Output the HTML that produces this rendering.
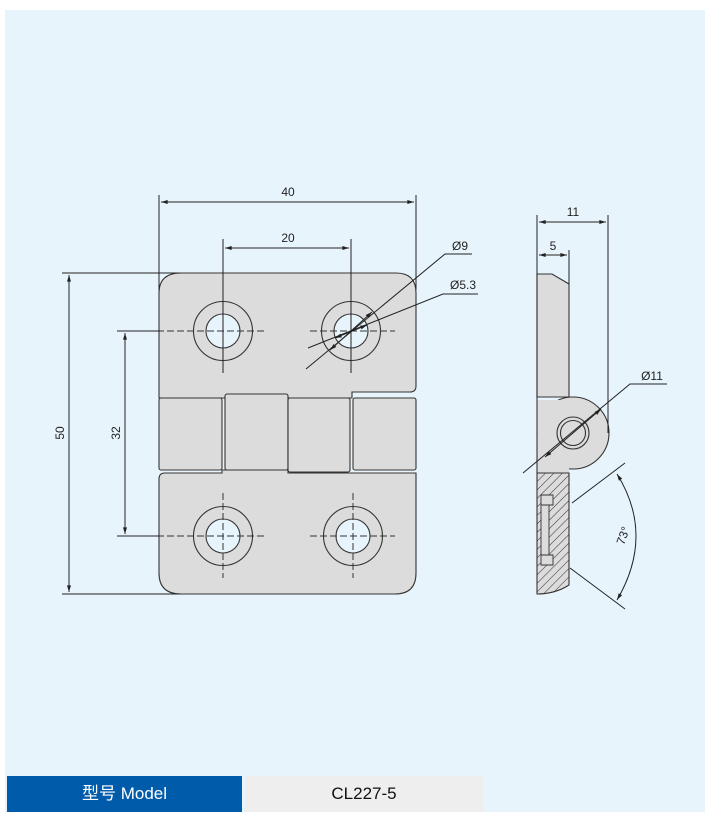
<!DOCTYPE html>
<html><head><meta charset="utf-8"><style>
html,body{margin:0;padding:0;background:#fff;}
body{width:710px;height:819px;position:relative;overflow:hidden;}
#panel{position:absolute;left:5px;top:10px;width:700px;height:802px;background:#e8f4fc;}
.bar{position:absolute;top:776px;height:36px;line-height:36px;text-align:center;font-family:"Liberation Sans","Noto Sans CJK SC",sans-serif;font-size:17px;}
</style></head><body>
<div id="panel"></div>
<svg width="710" height="819" style="position:absolute;left:0;top:0" font-family="Liberation Sans, sans-serif" font-size="12">
<defs>
<marker id="a" viewBox="0 0 10 6" refX="10" refY="3" markerWidth="7" markerHeight="4" orient="auto-start-reverse"><path d="M0,0L10,3L0,6z" fill="#222"/></marker>
<pattern id="h" width="6" height="6" patternUnits="userSpaceOnUse" patternTransform="rotate(45)"><rect width="6" height="6" fill="#dcdcdc"/><line x1="0" y1="0" x2="0" y2="6" stroke="#333" stroke-width="1"/></pattern>
</defs>
<g stroke="#333" stroke-width="1.1" fill="#dcdcdc">
<path d="M181,273 H396 Q416,273 416,293 V386 Q416,392 410,392 H352 V398 H159 V293 Q159,273 181,273 Z"/>
<rect x="159" y="398" width="63" height="72" rx="2"/>
<rect x="225" y="394" width="63" height="76" rx="2"/>
<rect x="288" y="398" width="62" height="74" rx="2"/>
<rect x="353" y="398" width="63" height="72" rx="2"/>
<path d="M165,473 H222 V470 H288 V473 H416 V573 Q416,594 395,594 H181 Q159,594 159,573 V479 Q159,473 165,473 Z"/>
</g>
<g stroke="#333" stroke-width="1.1" fill="#e8f4fc">
<circle cx="223" cy="331" r="29.5" fill="none"/><circle cx="223" cy="331" r="17"/>
<circle cx="351" cy="331" r="29.5" fill="none"/><circle cx="351" cy="331" r="17"/>
<circle cx="223" cy="536" r="29.5" fill="none"/><circle cx="223" cy="536" r="17"/>
<circle cx="353" cy="536" r="29.5" fill="none"/><circle cx="353" cy="536" r="17"/>
</g>
<g stroke="#333" stroke-width="1" stroke-dasharray="7,3" fill="none">
<line x1="117" y1="331" x2="265" y2="331"/><line x1="310" y1="331" x2="395" y2="331"/>
<line x1="117" y1="536" x2="265" y2="536"/><line x1="310" y1="536" x2="395" y2="536"/>
<line x1="223" y1="493" x2="223" y2="578"/><line x1="353" y1="493" x2="353" y2="578"/>
</g>
<g stroke="#222" stroke-width="1" fill="none">
<line x1="223" y1="239" x2="223" y2="373"/><line x1="351" y1="239" x2="351" y2="373"/>
<line x1="159" y1="195" x2="159" y2="290"/><line x1="416" y1="195" x2="416" y2="290"/>
<line x1="161" y1="202" x2="414" y2="202" marker-start="url(#a)" marker-end="url(#a)"/>
<line x1="225" y1="248" x2="349" y2="248" marker-start="url(#a)" marker-end="url(#a)"/>
<line x1="62" y1="273" x2="180" y2="273"/><line x1="62" y1="594" x2="180" y2="594"/>
<line x1="69" y1="275" x2="69" y2="592" marker-start="url(#a)" marker-end="url(#a)"/>
<line x1="117" y1="331" x2="160" y2="331"/><line x1="117" y1="536" x2="160" y2="536"/>
<line x1="125" y1="333" x2="125" y2="534" marker-start="url(#a)" marker-end="url(#a)"/>
<polyline points="306,369 445,254 472,254"/>
<polyline points="308,348 443,294 478,294"/>
<line x1="330" y1="350" x2="372" y2="312" marker-start="url(#a)" marker-end="url(#a)"/>
<line x1="335" y1="338" x2="367" y2="325" marker-start="url(#a)" marker-end="url(#a)"/>
</g>
<g fill="#222" text-anchor="middle">
<text x="288" y="196">40</text><text x="288" y="242">20</text>
<text x="460" y="250">Ø9</text><text x="463" y="289">Ø5.3</text>
<text transform="translate(64,433) rotate(-90)">50</text>
<text transform="translate(120,433) rotate(-90)">32</text>
</g>
<g stroke="#333" stroke-width="1.1">
<path d="M537,274 H552 L569,284 V397 H537 Z" fill="#dcdcdc"/>
<circle cx="573" cy="433" r="36" fill="#dcdcdc"/>
<rect x="537" y="400" width="32" height="73" fill="#dcdcdc" stroke="none"/>
<line x1="537" y1="274" x2="537" y2="473"/>
<path d="M537,473 H569 V585 Q555,594 537,594 Z" fill="url(#h)"/>
<path d="M541,495 H553 V505 H541 Z M541,505 H549 V555 H541 Z M541,555 H553 V565 H541 Z" fill="#dcdcdc" stroke-width="0.9"/>
<circle cx="573" cy="433" r="16" fill="none"/><circle cx="573" cy="433" r="12.5" fill="#dcdcdc"/>
</g>
<g stroke="#222" stroke-width="1" fill="none">
<line x1="537" y1="215" x2="537" y2="274"/><line x1="608" y1="215" x2="608" y2="433"/>
<line x1="569" y1="250" x2="569" y2="284"/>
<line x1="539" y1="222" x2="606" y2="222" marker-start="url(#a)" marker-end="url(#a)"/>
<line x1="539" y1="255" x2="567" y2="255" marker-start="url(#a)" marker-end="url(#a)"/>
<polyline points="523,473 630,384 667,384"/>
<line x1="545" y1="457" x2="601" y2="409" marker-start="url(#a)" marker-end="url(#a)"/>
<line x1="572" y1="503" x2="625" y2="463"/><line x1="570" y1="568" x2="625" y2="609"/>
<path d="M617,474 Q655,535 617,600" marker-start="url(#a)" marker-end="url(#a)"/>
</g>
<g fill="#222" text-anchor="middle">
<text x="573" y="216">11</text><text x="553" y="250">5</text>
<text x="652" y="380">Ø11</text>
<text transform="translate(627,537) rotate(-70)">73°</text>
</g>
</svg>
<div class="bar" style="left:7px;width:235px;background:#005bab;color:#fff;">型号 Model</div>
<div class="bar" style="left:245px;width:238px;background:#eeeeee;color:#111;">CL227-5</div>
</body></html>
